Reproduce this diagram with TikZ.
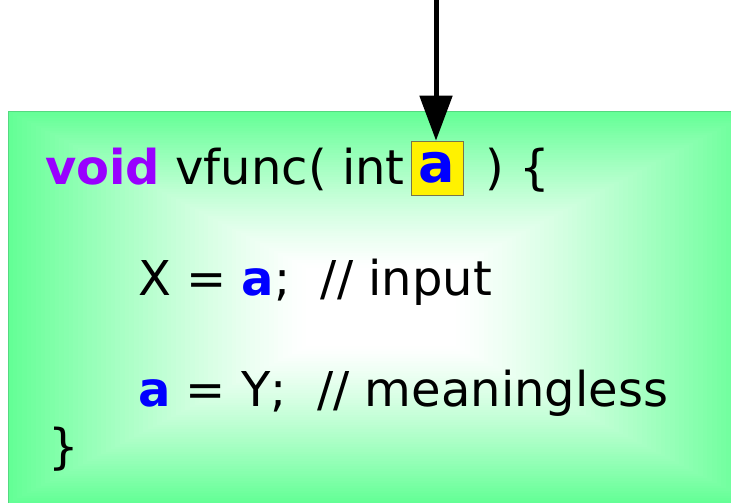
\documentclass[tikz,border=0pt]{standalone}
\usepackage{fontspec}
\setmainfont{DejaVu Sans}
\usetikzlibrary{arrows.meta}
\definecolor{boxgreen}{RGB}{100,255,150}
\definecolor{kwpurple}{RGB}{153,0,255}
\definecolor{varblue}{RGB}{0,0,255}
\tikzset{
  code/.style={inner sep=0pt, anchor=base west, font=\fontsize{48}{58}\selectfont},
  argbox/.style={draw=black!60!yellow, line width=0.6pt, fill=yellow, minimum width=52pt, minimum height=54pt, inner sep=0pt, text=varblue, font=\fontsize{54}{60}\selectfont\bfseries},
  flow/.style={line width=5pt, -{Triangle[length=45pt,width=32pt]}}
}
\begin{document}
\begin{tikzpicture}[x=1pt,y=1pt]
\useasboundingbox (0,0) rectangle (731,503);
\begin{scope}
\clip (8,-5) rectangle (740,391);
\foreach \i in {0,...,79}{
  \pgfmathsetmacro\t{\i/80}
  \pgfmathsetmacro\q{max(0,1-\t/0.8)}
  \pgfmathsetmacro\p{100*\q^1.25}
  \fill[color=boxgreen!\p!white] ({381-373*(1-\t)},{196-196*(1-\t)}) rectangle ({381+373*(1-\t)},{196+196*(1-\t)});
}
\end{scope}
\draw[draw=boxgreen!85!black, line width=1pt] (8,-5) rectangle (740,391);
\node[code] (l1a) at (45,318) {\textcolor{kwpurple}{\bfseries void} vfunc( int};
\node[argbox] (arg) at (437,335) {a};
\node[code] (l1b) at (485,318) {) \{};
\node[code] (l2) at (138,207) {X = \textcolor{varblue}{\bfseries a};\ \ // input};
\node[code] (l3) at (138,96) {\textcolor{varblue}{\bfseries a} = Y;\ \ // meaningless};
\node[code] (l4) at (48,39) {\}};
\coordinate (src) at (436,503);
\draw[flow] (src) -- (arg.north -| src);
\end{tikzpicture}
\end{document}
